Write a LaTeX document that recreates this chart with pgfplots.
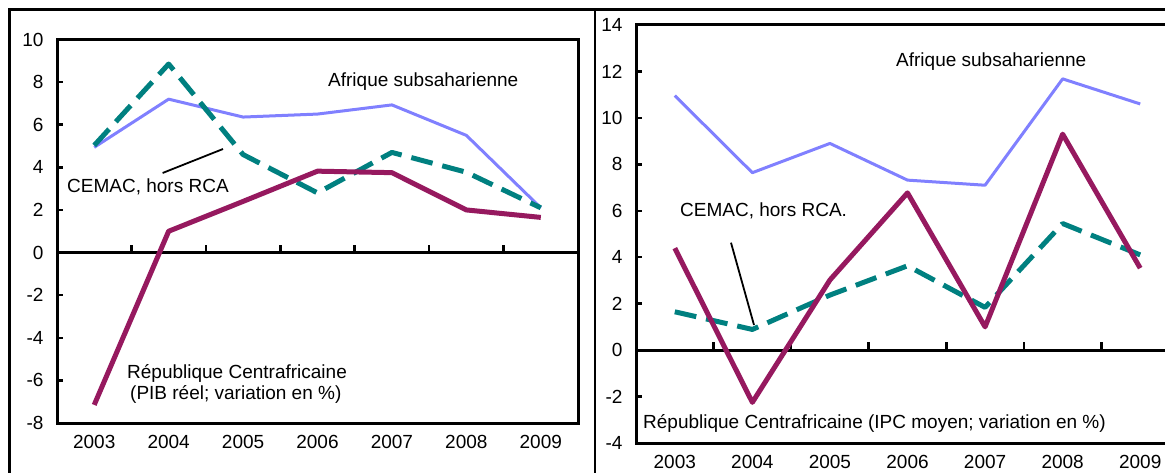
\documentclass[border=0pt]{standalone}
\usepackage{pgfplots}
\pgfplotsset{compat=1.18}
\usepackage{fontspec}
\setmainfont{Liberation Sans}
\definecolor{afr}{RGB}{128,128,255}
\definecolor{cem}{RGB}{0,128,128}
\definecolor{rca}{RGB}{150,25,95}
\pgfplotsset{
  panel/.style={
    scale only axis, anchor=south west,
    xmin=-0.5, xmax=6.5,
    xtick={0,1,2,3,4,5,6},
    xticklabels={2003,2004,2005,2006,2007,2008,2009},
    xtick style={draw=none},
    ytick pos=left,
    axis line style={line width=3pt},
    ytick style={line width=2.5pt,black},
    tick align=inside,
    major tick length=6pt,
    ticklabel style={font=\fontsize{19}{22}\selectfont},
    yticklabel style={xshift=-10pt},
    xticklabel style={yshift=-9pt},
  },
  afrs/.style={afr, line width=3pt, line join=round},
  cems/.style={cem, line width=5pt, dash pattern=on 22pt off 10pt, line join=round},
  rcas/.style={rca, line width=5pt, line join=round},
}
\begin{document}
\begin{tikzpicture}[x=1pt,y=1pt]
\begin{axis}[panel, at={(57pt,-423pt)}, width=521pt, height=383.5pt,
  ymin=-8, ymax=10, ytick={-8,-6,-4,-2,0,2,4,6,8,10},
  yticklabels={-8,-6,-4,-2,0,2,4,6,8,10}]
\draw[line width=3pt] (axis cs:-0.5,0) -- (axis cs:6.5,0);
\draw[line width=2.5pt] (axis cs:0.5,0) -- (axis cs:0.5,0.37);
\draw[line width=2.5pt] (axis cs:1.5,0) -- (axis cs:1.5,0.37);
\draw[line width=2.5pt] (axis cs:2.5,0) -- (axis cs:2.5,0.37);
\draw[line width=2.5pt] (axis cs:3.5,0) -- (axis cs:3.5,0.37);
\draw[line width=2.5pt] (axis cs:4.5,0) -- (axis cs:4.5,0.37);
\draw[line width=2.5pt] (axis cs:5.5,0) -- (axis cs:5.5,0.37);
\addplot[afrs] coordinates {(0,4.94)(1,7.2)(2,6.36)(3,6.5)(4,6.93)(5,5.5)(6,2.1)};
\addplot[cems] coordinates {(0,5.03)(1,8.85)(2,4.6)(3,2.8)(4,4.7)(5,3.77)(6,2.1)};
\addplot[rcas] coordinates {(0,-7.15)(1,1.0)(2,2.4)(3,3.82)(4,3.75)(5,2.0)(6,1.65)};
\end{axis}
\begin{axis}[panel, at={(636pt,-443pt)}, width=543pt, height=418pt,
  ymin=-4, ymax=14, ytick={-4,-2,0,2,4,6,8,10,12,14},
  yticklabels={-4,-2,0,2,4,6,8,10,12,14}]
\draw[line width=3pt] (axis cs:-0.5,0) -- (axis cs:6.5,0);
\draw[line width=2.5pt] (axis cs:0.5,0) -- (axis cs:0.5,0.34);
\draw[line width=2.5pt] (axis cs:1.5,0) -- (axis cs:1.5,0.34);
\draw[line width=2.5pt] (axis cs:2.5,0) -- (axis cs:2.5,0.34);
\draw[line width=2.5pt] (axis cs:3.5,0) -- (axis cs:3.5,0.34);
\draw[line width=2.5pt] (axis cs:4.5,0) -- (axis cs:4.5,0.34);
\draw[line width=2.5pt] (axis cs:5.5,0) -- (axis cs:5.5,0.34);
\addplot[afrs] coordinates {(0,10.96)(1,7.64)(2,8.9)(3,7.32)(4,7.1)(5,11.68)(6,10.6)};
\addplot[cems] coordinates {(0,1.65)(1,0.89)(2,2.37)(3,3.63)(4,1.84)(5,5.45)(6,4.1)};
\addplot[rcas] coordinates {(0,4.39)(1,-2.25)(2,3.02)(3,6.77)(4,1.0)(5,9.3)(6,3.53)};
\end{axis}
% frames
\draw[line width=2.5pt] (9.5,-480) -- (9.5,-9.5) -- (1170,-9.5);
\draw[line width=2pt] (595,-9.5) -- (595,-480);
% leader lines
\draw[line width=1.8pt] (162.6,-173) -- (223,-149);
\draw[line width=1.8pt] (731,-242.7) -- (754,-325);
% annotations
\begin{scope}[every node/.style={anchor=west, inner sep=0pt, font=\fontsize{19}{22}\selectfont}]
\node at (328,-82) {Afrique subsaharienne};
\node at (67,-187) {CEMAC, hors RCA};
\node at (127,-373) {République Centrafricaine};
\node at (130,-394) {(PIB réel; variation en \%)};
\node at (896,-62) {Afrique subsaharienne};
\node at (680,-211) {CEMAC, hors RCA.};
\node at (643,-423) {République Centrafricaine (IPC moyen; variation en \%)};
\end{scope}
\pgfresetboundingbox
\useasboundingbox (0,0) rectangle (1165,-473);
\end{tikzpicture}
\end{document}
